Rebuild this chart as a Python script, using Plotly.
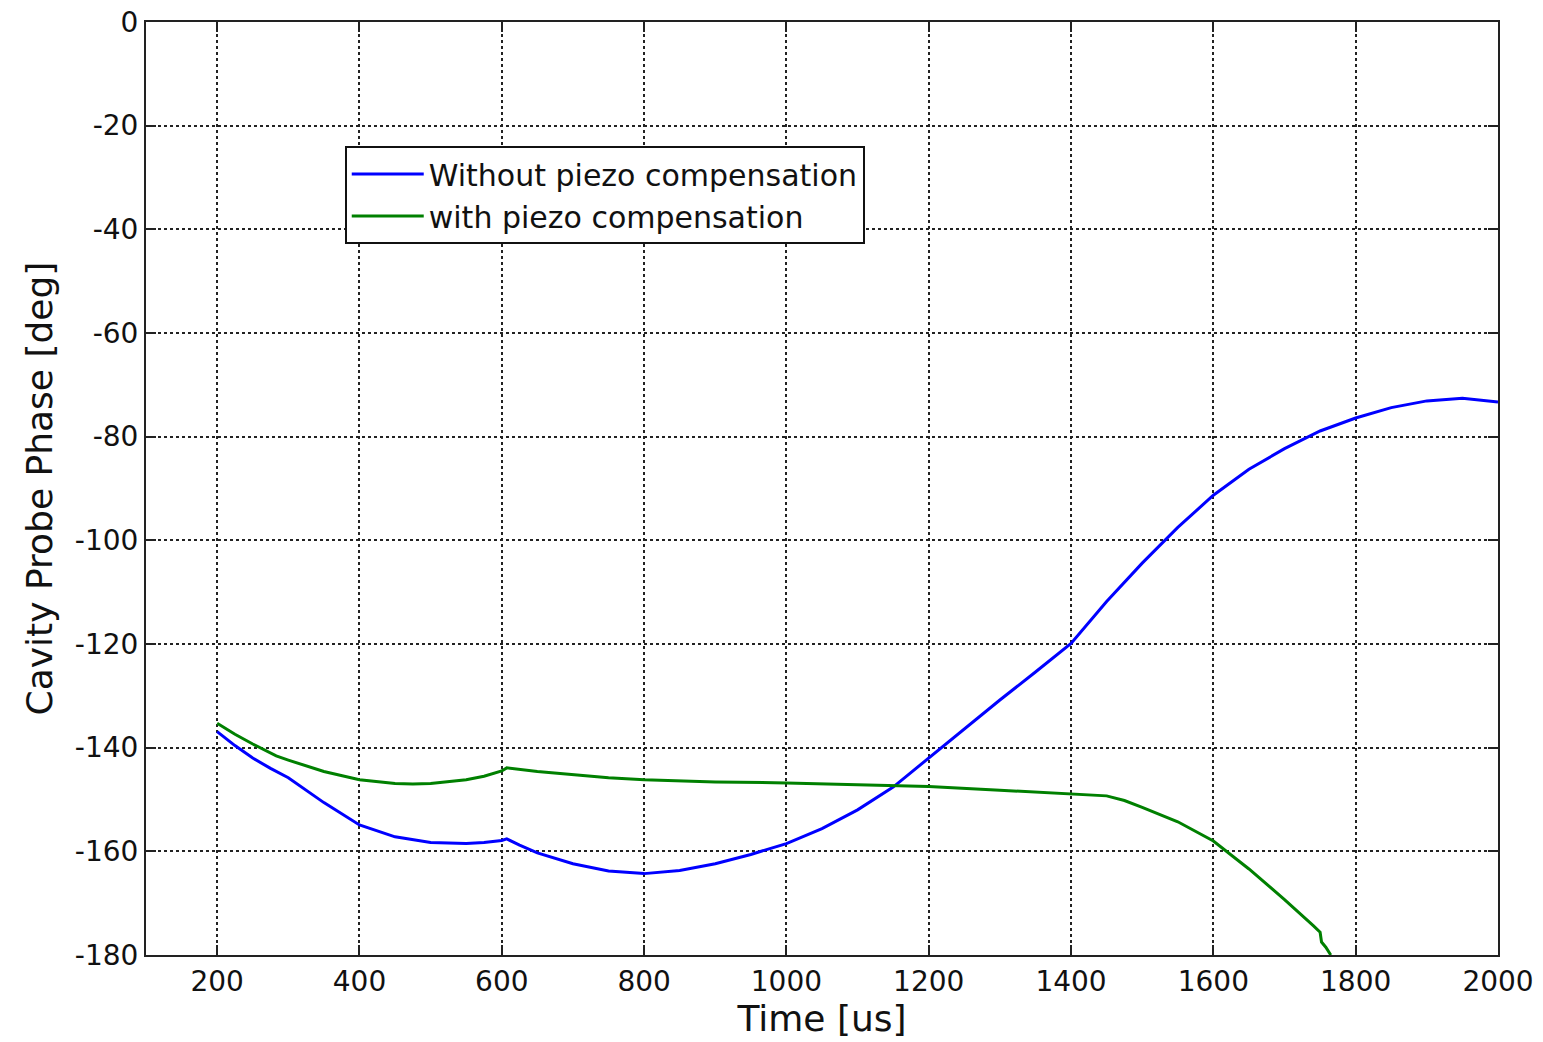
import plotly.graph_objects as go

# Data
blue_x = [200, 225, 250, 275, 300, 350, 400, 450, 500, 550, 575, 600, 607, 625, 650, 700, 750, 800, 850, 900, 950, 1000, 1050, 1100, 1150, 1200, 1250, 1300, 1350, 1400, 1450, 1500, 1550, 1600, 1650, 1700, 1750, 1800, 1850, 1900, 1950, 2000]
blue_y = [-136.9, -139.6, -142.0, -144.0, -145.8, -150.6, -154.9, -157.2, -158.3, -158.5, -158.3, -157.9, -157.6, -158.8, -160.3, -162.4, -163.8, -164.3, -163.7, -162.4, -160.6, -158.5, -155.6, -152.0, -147.6, -142.0, -136.3, -130.8, -125.4, -119.9, -111.8, -104.4, -97.5, -91.3, -86.3, -82.3, -78.9, -76.4, -74.4, -73.1, -72.6, -73.3]

green_x = [200, 225, 250, 283, 300, 350, 400, 450, 475, 500, 550, 575, 600, 607, 650, 700, 750, 800, 900, 1000, 1100, 1200, 1300, 1400, 1430, 1450, 1475, 1500, 1550, 1600, 1650, 1700, 1740, 1750, 1752, 1758, 1765]
green_y = [-135.3, -137.4, -139.3, -141.6, -142.4, -144.6, -146.2, -146.9, -147.0, -146.9, -146.2, -145.5, -144.5, -143.9, -144.6, -145.2, -145.8, -146.2, -146.6, -146.8, -147.1, -147.5, -148.2, -148.9, -149.1, -149.3, -150.2, -151.5, -154.3, -158.0, -163.4, -169.3, -174.3, -175.6, -177.5, -178.5, -180.0]

x_ticks = [200, 400, 600, 800, 1000, 1200, 1400, 1600, 1800, 2000]
y_ticks = [0, -20, -40, -60, -80, -100, -120, -140, -160, -180]

series_names = ["Without piezo compensation", "with piezo compensation"]

font_family = "DejaVu Sans, sans-serif"
text_color = "#111111"

fig = go.Figure()
fig.add_trace(go.Scatter(x=blue_x, y=blue_y, mode="lines", name=series_names[0],
                         line=dict(color="#0000ff", width=3)))
fig.add_trace(go.Scatter(x=green_x, y=green_y, mode="lines", name=series_names[1],
                         line=dict(color="#008000", width=3)))

axis_common = dict(
    showline=True, linecolor="#222222", linewidth=2, mirror="ticks",
    ticks="inside", ticklen=10, tickwidth=2, tickcolor="#222222",
    showgrid=True, gridcolor="#222222", gridwidth=2, griddash="dot",
    zeroline=False, automargin=False,
    tickfont=dict(family=font_family, size=28, color=text_color),
)

fig.update_xaxes(range=[100, 2000], tickvals=x_ticks, ticktext=[str(v) for v in x_ticks],
                 title=dict(text="Time [us]", font=dict(family=font_family, size=36, color=text_color), standoff=2),
                 **axis_common)
fig.update_yaxes(range=[-180, 0], tickvals=y_ticks, ticktext=[str(v) for v in y_ticks],
                 title=dict(text="Cavity Probe Phase [deg]", font=dict(family=font_family, size=36, color=text_color), standoff=11),
                 **axis_common)

fig.update_layout(
    width=1543, height=1042,
    margin=dict(l=146, r=45, t=22, b=87),
    paper_bgcolor="white", plot_bgcolor="white",
    showlegend=True,
    legend=dict(x=0.147, y=0.867, xanchor="left", yanchor="top",
                bgcolor="white", bordercolor="#111111", borderwidth=2,
                font=dict(family=font_family, size=30, color=text_color),
                itemwidth=72, tracegroupgap=0),
)

fig.write_html("out.html")
